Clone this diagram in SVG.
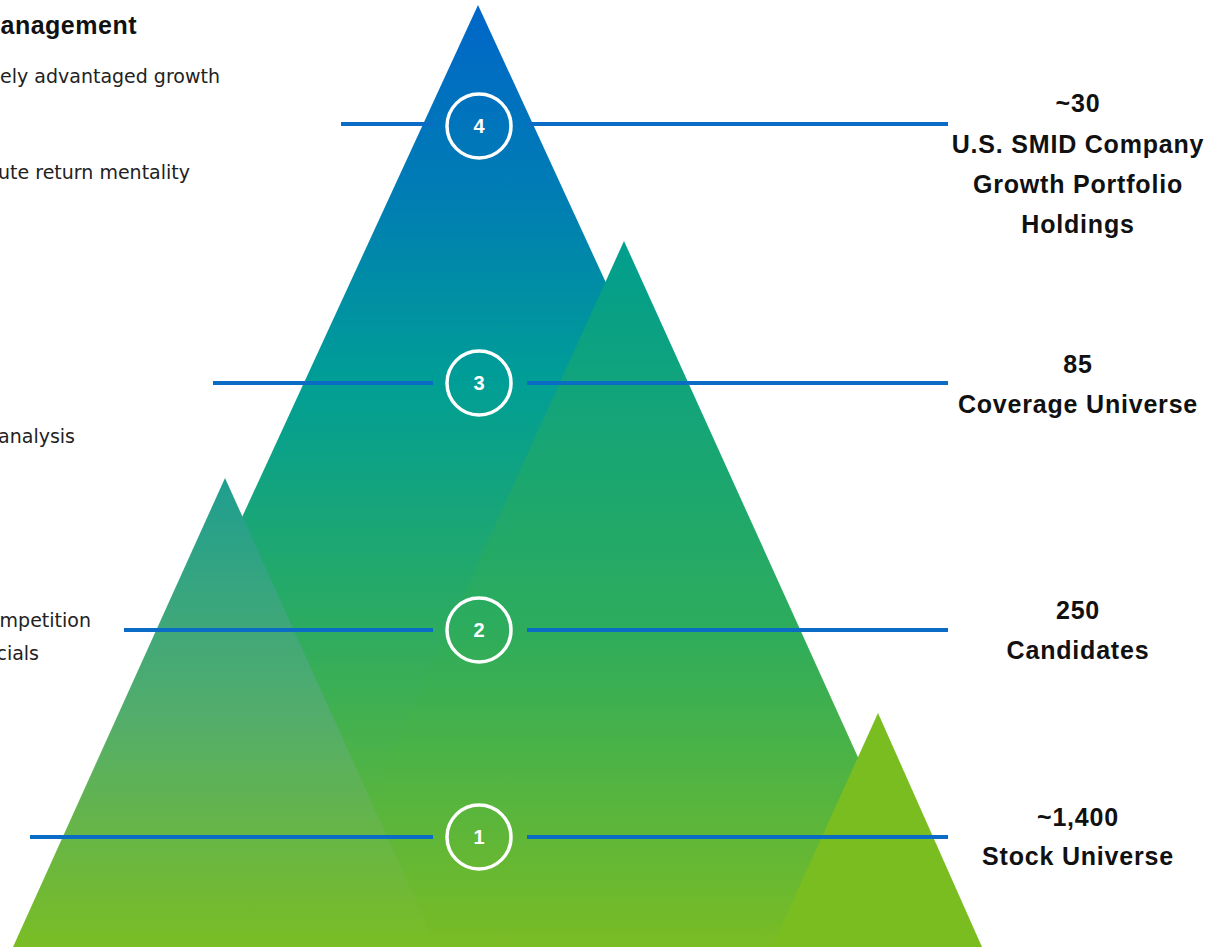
<svg xmlns="http://www.w3.org/2000/svg" width="1219" height="947" viewBox="0 0 1219 947">
  <defs>
    <linearGradient id="gBig" gradientUnits="userSpaceOnUse" x1="0" y1="5" x2="0" y2="947">
      <stop offset="0" stop-color="#0066c8"/>
      <stop offset="0.2" stop-color="#007db4"/>
      <stop offset="0.4" stop-color="#009e96"/>
      <stop offset="0.65" stop-color="#2aab62"/>
      <stop offset="1" stop-color="#7abc24"/>
    </linearGradient>
    <linearGradient id="gMid" gradientUnits="userSpaceOnUse" x1="0" y1="241" x2="0" y2="947">
      <stop offset="0" stop-color="#009e8e"/>
      <stop offset="0.55" stop-color="#2dac5c"/>
      <stop offset="1" stop-color="#7abc24"/>
    </linearGradient>
    <linearGradient id="gLeft" gradientUnits="userSpaceOnUse" x1="0" y1="478" x2="0" y2="947">
      <stop offset="0" stop-color="#1f9e90"/>
      <stop offset="0.5" stop-color="#52ad6c"/>
      <stop offset="1" stop-color="#7abd24"/>
    </linearGradient>
    <style>
      .conn { stroke: #0b6cc6; stroke-width: 4; fill: none; }
      .ring { fill: none; stroke: #ffffff; stroke-width: 3.5; }
      .num { font-family: "Liberation Sans", Arial, sans-serif; font-weight: bold; font-size: 20px; fill: #ffffff; text-anchor: middle; }
      .lbl { font-family: "Liberation Sans", Arial, sans-serif; font-weight: bold; font-size: 25px; letter-spacing: 0.8px; fill: #111111; text-anchor: middle; }
      .desc { font-family: "DejaVu Sans", "Liberation Sans", sans-serif; font-size: 19px; fill: #222222; text-anchor: end; }
      .head { font-family: "Liberation Sans", Arial, sans-serif; font-weight: bold; font-size: 25px; letter-spacing: 0.5px; fill: #111111; text-anchor: end; }
    </style>
  </defs>

  <g id="mountains">
    <polygon id="big" points="478,5 912,947 44,947" fill="url(#gBig)"/>
    <polygon id="mid" points="624,241 944,947 304,947" fill="url(#gMid)"/>
    <polygon id="left" points="225,478 437,947 13,947" fill="url(#gLeft)"/>
    <polygon id="right" points="878,713 982,947 772,947" fill="#7abd21"/>
  </g>

  <g id="left-text">
    <text class="head" x="137" y="34">anagement</text>
    <text class="desc" x="220" y="83">ely advantaged growth</text>
    <text class="desc" x="190" y="179">ute return mentality</text>
    <text class="desc" x="75" y="443">analysis</text>
    <text class="desc" x="91" y="627">mpetition</text>
    <text class="desc" x="39" y="660">cials</text>
  </g>

  <g id="connectors">
    <line class="conn" x1="341" y1="124" x2="433" y2="124"/>
    <line class="conn" x1="527" y1="124" x2="948" y2="124"/>
    <line class="conn" x1="213" y1="383" x2="433" y2="383"/>
    <line class="conn" x1="527" y1="383" x2="948" y2="383"/>
    <line class="conn" x1="124" y1="630" x2="433" y2="630"/>
    <line class="conn" x1="527" y1="630" x2="948" y2="630"/>
    <line class="conn" x1="30" y1="837" x2="433" y2="837"/>
    <line class="conn" x1="527" y1="837" x2="948" y2="837"/>
  </g>

  <g id="step4">
    <circle class="ring" cx="479" cy="126" r="32"/>
    <text class="num" x="479" y="133">4</text>
    <text class="lbl" x="1078" y="112">~30</text>
    <text class="lbl" x="1078" y="153">U.S. SMID Company</text>
    <text class="lbl" x="1078" y="193">Growth Portfolio</text>
    <text class="lbl" x="1078" y="233">Holdings</text>
  </g>
  <g id="step3">
    <circle class="ring" cx="479" cy="383" r="32"/>
    <text class="num" x="479" y="390">3</text>
    <text class="lbl" x="1078" y="373">85</text>
    <text class="lbl" x="1078" y="413">Coverage Universe</text>
  </g>
  <g id="step2">
    <circle class="ring" cx="479" cy="630" r="32"/>
    <text class="num" x="479" y="637">2</text>
    <text class="lbl" x="1078" y="619">250</text>
    <text class="lbl" x="1078" y="659">Candidates</text>
  </g>
  <g id="step1">
    <circle class="ring" cx="479" cy="837" r="32"/>
    <text class="num" x="479" y="844">1</text>
    <text class="lbl" x="1078" y="826">~1,400</text>
    <text class="lbl" x="1078" y="865">Stock Universe</text>
  </g>
</svg>
